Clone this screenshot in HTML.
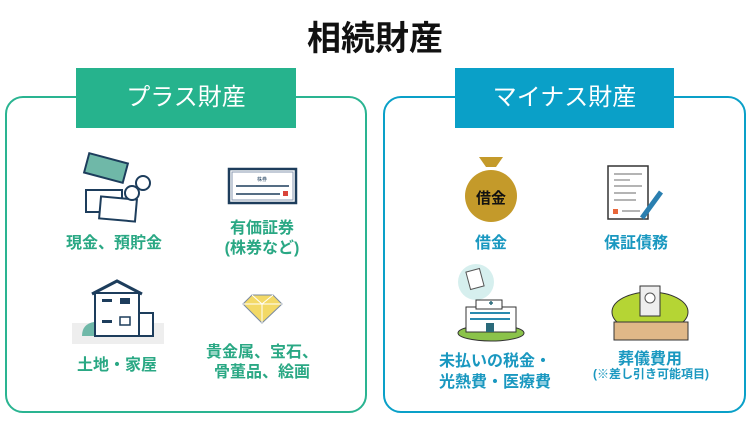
<!DOCTYPE html>
<html><head><meta charset="utf-8"><style>
body{margin:0;width:750px;height:430px;background:#fff;position:relative;overflow:hidden;font-family:"Liberation Sans","Noto Sans CJK JP",sans-serif}
.a{position:absolute}
.t{position:absolute;text-align:center;white-space:nowrap;transform:translateX(-50%);font-weight:bold}
.g{color:#2aa884;font-size:16px}
.b{color:#1a98c0;font-size:16px}
</style></head><body>
<div class="t" style="left:375px;top:11px;font-size:34px;color:#111">相続財産</div>
<div class="a" style="left:5px;top:96px;width:358px;height:313px;border:2.5px solid #2ab491;border-radius:18px"></div>
<div class="a" style="left:383px;top:96px;width:359px;height:313px;border:2.5px solid #0aa0c8;border-radius:18px"></div>
<div class="a" style="left:76px;top:68px;width:220px;height:60px;background:#26b38d;color:#fff;font-size:24px;line-height:60px;text-align:center">プラス財産</div>
<div class="a" style="left:455px;top:68px;width:219px;height:60px;background:#0aa0c8;color:#fff;font-size:24px;line-height:60px;text-align:center">マイナス財産</div>

<svg class="a" style="left:0;top:0" width="750" height="430">
<g stroke="#1d3d5c" stroke-width="2">
<rect x="86" y="158" width="40" height="20" fill="#6fb8a8" transform="rotate(15 106 168)"/>
<rect x="86" y="190" width="36" height="22" fill="#fff"/>
<rect x="100" y="198" width="36" height="22" fill="#fff" transform="rotate(5 118 209)"/>
<circle cx="143" cy="183" r="7" fill="#fff"/><circle cx="132" cy="193" r="7" fill="#fff"/>
</g>
<rect x="229" y="169" width="67" height="34" fill="#fff" stroke="#1d3d5c" stroke-width="2.5"/>
<rect x="232" y="172" width="61" height="28" fill="none" stroke="#8a9ab0" stroke-width="1"/>
<line x1="236" y1="186" x2="289" y2="186" stroke="#1d3d5c" stroke-width="1.5"/>
<line x1="236" y1="194" x2="280" y2="194" stroke="#1d3d5c" stroke-width="1.5"/>
<rect x="283" y="191" width="5" height="5" fill="#d9443a"/>
<text x="262" y="181" font-size="5" text-anchor="middle" fill="#1d3d5c">株券</text>
<rect x="72" y="323" width="92" height="21" fill="#eee"/>
<path d="M92 294 L117 281 L142 294" fill="none" stroke="#1d3d5c" stroke-width="3"/>
<rect x="95" y="293" width="44" height="43" fill="#fff" stroke="#1d3d5c" stroke-width="2"/>
<rect x="139" y="313" width="14" height="23" fill="#fff" stroke="#1d3d5c" stroke-width="2"/>
<path d="M82 336 q0-12 12-14 v14z" fill="#6fb8a8"/>
<rect x="102" y="299" width="10" height="3" fill="#1d3d5c"/><rect x="120" y="298" width="10" height="6" fill="#1d3d5c"/>
<rect x="102" y="320" width="10" height="3" fill="#1d3d5c"/><rect x="120" y="317" width="10" height="8" fill="none" stroke="#1d3d5c" stroke-width="1.5"/>
<path d="M243 304 L252 295 L273 295 L282 304 L262 323 Z" fill="#f3d966" stroke="#7a8aa0" stroke-width="1"/>
<path d="M243 304 L282 304 M252 295 L262 304 L273 295 M262 304 L262 323" stroke="#fff" stroke-width="1" fill="none"/>
<path d="M479 157 L503 157 L496 167 L486 167 Z" fill="#c49a2a"/>
<ellipse cx="491" cy="196" rx="26" ry="26" fill="#c49a2a"/>
<text x="491" y="203" font-size="15" text-anchor="middle" fill="#111" font-weight="bold">借金</text>
<rect x="608" y="166" width="40" height="53" fill="#fff" stroke="#333" stroke-width="1.5"/>
<g stroke="#888" stroke-width="1.2"><line x1="614" y1="174" x2="642" y2="174"/><line x1="614" y1="180" x2="630" y2="180"/><line x1="614" y1="186" x2="642" y2="186"/><line x1="614" y1="193" x2="636" y2="193"/><line x1="614" y1="200" x2="636" y2="200"/><line x1="622" y1="211" x2="640" y2="211"/></g>
<rect x="613" y="209" width="5" height="5" fill="#e8663a"/>
<line x1="661" y1="192" x2="642" y2="218" stroke="#2a7fb0" stroke-width="5"/>
<circle cx="476" cy="282" r="18" fill="#d6efee"/>
<rect x="468" y="270" width="14" height="18" fill="#fff" stroke="#555" transform="rotate(-15 475 279)"/>
<ellipse cx="491" cy="333" rx="33" ry="8" fill="#8bc34a" stroke="#333"/>
<rect x="466" y="307" width="50" height="25" fill="#fff" stroke="#333"/>
<rect x="476" y="300" width="26" height="9" fill="#fff" stroke="#333"/>
<rect x="486" y="323" width="8" height="9" fill="#2a6a7a"/>
<g fill="#2a8ab0"><rect x="470" y="312" width="40" height="2"/><rect x="470" y="318" width="40" height="2"/></g>
<path d="M489 303h4M491 301v4" stroke="#2a6a7a" stroke-width="1.5"/>
<ellipse cx="650" cy="312" rx="38" ry="20" fill="#b5d534" stroke="#333"/>
<rect x="640" y="286" width="20" height="30" fill="#eee" stroke="#333"/>
<circle cx="650" cy="298" r="5" fill="#fff" stroke="#555"/>
<rect x="614" y="322" width="74" height="18" fill="#e0b888" stroke="#333"/>
</svg>

<div class="t g" style="left:114px;top:229px">現金、預貯金</div>
<div class="t g" style="left:262px;top:214px">有価証券</div>
<div class="t g" style="left:262px;top:234px">(株券など)</div>
<div class="t g" style="left:117px;top:351px">土地・家屋</div>
<div class="t g" style="left:262px;top:338px">貴金属、宝石、</div>
<div class="t g" style="left:262px;top:358px">骨董品、絵画</div>
<div class="t b" style="left:491px;top:229px">借金</div>
<div class="t b" style="left:636px;top:229px">保証債務</div>
<div class="t b" style="left:495px;top:347px">未払いの税金・</div>
<div class="t b" style="left:495px;top:368px">光熱費・医療費</div>
<div class="t b" style="left:650px;top:345px">葬儀費用</div>
<div class="t b" style="left:651px;top:365px;font-size:12px">(※差し引き可能項目)</div>
</body></html>
